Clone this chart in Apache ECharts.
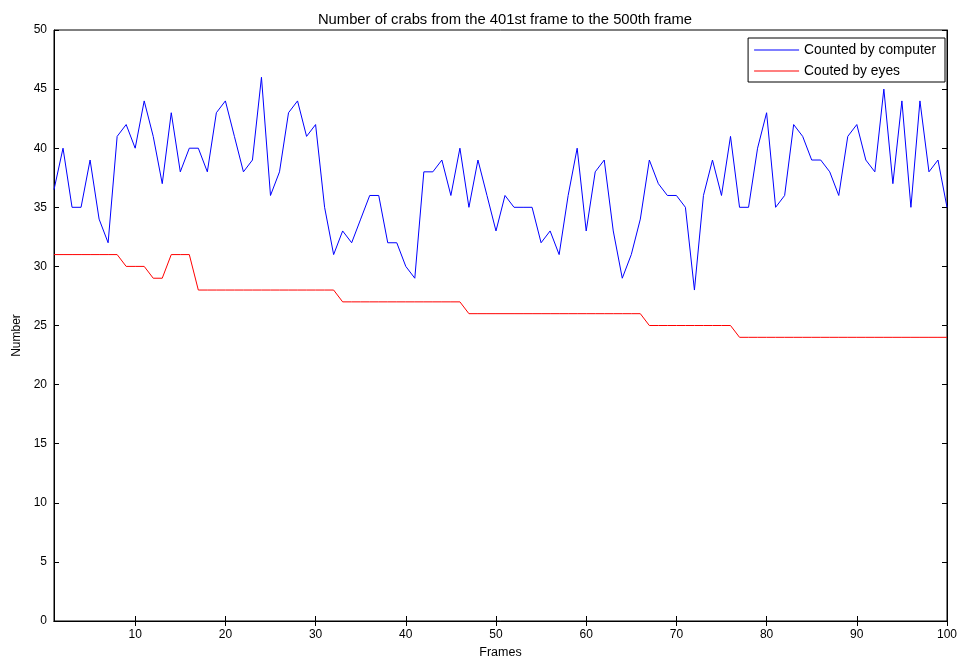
<!DOCTYPE html>
<html>
<head>
<meta charset="utf-8">
<script src="https://cdn.jsdelivr.net/npm/echarts@6/dist/echarts.min.js"></script>
<style>html,body{margin:0;padding:0;background:#fff;}#c{width:961px;height:659px;}</style>
</head>
<body>
<div id="c"></div>
<script>
const frames = Array.from({length: 100}, (_, i) => i + 1);
const computer = [36.5,40,35,35,39,34,32,41,42,40, 44,41,37,43,38,40,40,38,43,44,
  41,38,39,46,36,38,43,44,41,42, 35,31,33,32,34,36,36,32,32,30,
  29,38,38,39,36,40,35,39,36,33, 36,35,35,35,32,33,31,36,40,33,
  38,39,33,29,31,34,39,37,36,36, 35,28,36,39,36,41,35,35,40,43,
  35,36,42,41,39,39,38,36,41,42, 39,38,45,37,44,35,44,38,39,35];
const eyes = [31,31,31,31,31,31,31,31,30,30, 30,29,29,31,31,31,28,28,28,28,
  28,28,28,28,28,28,28,28,28,28, 28,28,27,27,27,27,27,27,27,27,
  27,27,27,27,27,27,26,26,26,26, 26,26,26,26,26,26,26,26,26,26,
  26,26,26,26,26,26,25,25,25,25, 25,25,25,25,25,25,24,24,24,24,
  24,24,24,24,24,24,24,24,24,24, 24,24,24,24,24,24,24,24,24,24];
const xTicks = [10,20,30,40,50,60,70,80,90,100];
const yMin = 0, yMax = 50, yStep = 5;

const font = 'Liberation Sans, Arial, sans-serif';
const chart = echarts.init(document.getElementById('c'));
const axisLine = {show: true, lineStyle: {color: '#000', width: 1}};
chart.setOption({
  backgroundColor: '#fff',
  animation: false,
  title: {
    text: 'Number of crabs from the 401st frame to the 500th frame',
    left: 500, textAlign: 'center', top: 7,
    textStyle: {fontSize: 14.8, fontWeight: 'normal', color: '#000', fontFamily: font}
  },
  legend: {
    right: 16, top: 38, orient: 'vertical',
    backgroundColor: '#fff', borderColor: '#000', borderWidth: 1,
    padding: [5, 9, 4, 6], itemGap: 7,
    itemWidth: 45, itemHeight: 1, icon: 'rect',
    textStyle: {fontSize: 13.8, color: '#000', fontFamily: font},
    data: ['Counted by computer', 'Couted by eyes']
  },
  grid: {left: 54, right: 14, top: 30, bottom: 38, outerBoundsMode: 'none', containLabel: false,
    show: true, borderColor: '#000', borderWidth: 1},
  xAxis: [{
    type: 'value', min: 1, max: 100,
    name: 'Frames', nameLocation: 'middle', nameGap: 24,
    nameTextStyle: {fontSize: 12.5, color: '#000', fontFamily: font},
    axisLine: axisLine,
    axisTick: {inside: true, length: 5, customValues: xTicks, lineStyle: {color: '#000'}},
    axisLabel: {customValues: xTicks, fontSize: 12, color: '#000', fontFamily: font, margin: 8},
    splitLine: {show: false}
  }, {
    type: 'value', min: 1, max: 100, position: 'top',
    axisLine: axisLine,
    axisTick: {inside: true, length: 5, customValues: xTicks, lineStyle: {color: '#000'}},
    axisLabel: {show: false},
    splitLine: {show: false}
  }],
  yAxis: [{
    type: 'value', min: yMin, max: yMax, interval: yStep,
    name: 'Number', nameLocation: 'middle', nameGap: 28,
    nameTextStyle: {fontSize: 12, color: '#000', fontFamily: font, padding: [0, 20, 0, 0]},
    axisLine: axisLine,
    axisTick: {inside: true, length: 5, lineStyle: {color: '#000'}},
    axisLabel: {fontSize: 12, color: '#000', fontFamily: font, margin: 7},
    splitLine: {show: false}
  }, {
    type: 'value', min: yMin, max: yMax, interval: yStep, position: 'right',
    axisLine: axisLine,
    axisTick: {inside: true, length: 5, lineStyle: {color: '#000'}},
    axisLabel: {show: false},
    splitLine: {show: false}
  }],
  series: [{
    name: 'Counted by computer', type: 'line', symbol: 'none',
    data: frames.map((f, i) => [f, computer[i]]),
    lineStyle: {color: '#0000ff', width: 1}, itemStyle: {color: '#0000ff'}
  }, {
    name: 'Couted by eyes', type: 'line', symbol: 'none',
    data: frames.map((f, i) => [f, eyes[i]]),
    lineStyle: {color: '#ff0000', width: 1}, itemStyle: {color: '#ff0000'}
  }]
});
</script>
</body>
</html>
